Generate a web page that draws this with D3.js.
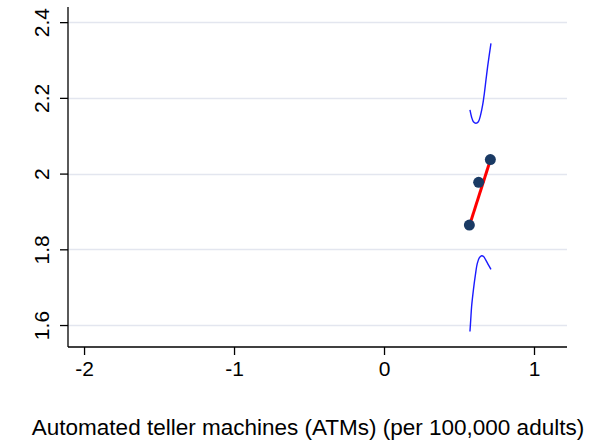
<!DOCTYPE html>
<html>
<head>
<meta charset="utf-8">
<script src="https://cdn.jsdelivr.net/npm/d3@7"></script>
<style>
body { margin: 0; background: #fff; }
svg text { font-family: "Liberation Sans", Arial, sans-serif; fill: #000; }
</style>
</head>
<body>
<div id="chart"></div>
<script>
// observed points (x = ATMs, y = outcome)
var pointX = [0.569, 0.631, 0.709];
var pointY = [1.864, 1.977, 2.037];
// fitted line ends
var fitX = [0.569, 0.709];
var fitY = [1.862, 2.036];
// upper band
var upperX = [0.573, 0.584, 0.596, 0.613, 0.629, 0.644, 0.658, 0.669, 0.680, 0.691, 0.702, 0.713];
var upperY = [2.168, 2.149, 2.137, 2.133, 2.137, 2.155, 2.182, 2.212, 2.248, 2.283, 2.314, 2.344];
// lower band
var lowerX = [0.573, 0.578, 0.584, 0.596, 0.609, 0.622, 0.636, 0.651, 0.664, 0.678, 0.696, 0.713];
var lowerY = [1.583, 1.613, 1.649, 1.693, 1.732, 1.763, 1.778, 1.783, 1.781, 1.772, 1.759, 1.747];
var xTicks = [-2, -1, 0, 1];
var yTicks = [1.6, 1.8, 2, 2.2, 2.4];
var xTitle = "Automated teller machines (ATMs) (per 100,000 adults)";

function drawChart() {
	var W = 611, H = 442;
	var pLeft = 68, pRight = 567, pTop = 7, pBottom = 347;

	var svg = d3.select("#chart").append("svg")
		.attr("width", W)
		.attr("height", H);

	var x = d3.scaleLinear().domain([-2.107, 1.22]).range([pLeft, pRight]);
	var y = d3.scaleLinear().domain([1.542, 2.44]).range([pBottom, pTop]);

	// grid lines
	svg.selectAll("line.grid")
		.data(yTicks)
		.enter()
		.append("line")
		.attr("class", "grid")
		.attr("x1", pLeft)
		.attr("x2", pRight)
		.attr("y1", function (d) { return Math.round(y(d)) + 0.5; })
		.attr("y2", function (d) { return Math.round(y(d)) + 0.5; })
		.attr("stroke", "#e3e6ef")
		.attr("stroke-width", 1.5);

	// axes
	var xAxis = d3.axisBottom(x).tickValues(xTicks).tickSize(8).tickPadding(6)
		.tickFormat(function (d) { return String(d); });
	var yAxis = d3.axisLeft(y).tickValues(yTicks).tickSize(8)
		.tickFormat(function (d) { return d === 2 ? "2" : d3.format(".1f")(d); });

	var gx = svg.append("g").attr("transform", "translate(0," + pBottom + ")").call(xAxis);
	gx.select(".domain").attr("d", "M" + pLeft + ",0H" + pRight).attr("stroke", "#000").attr("stroke-width", 1.3);
	gx.selectAll(".tick line").attr("stroke", "#000").attr("stroke-width", 1.3);
	gx.selectAll(".tick text").attr("font-size", 21).attr("font-family", "Liberation Sans, Arial, sans-serif");

	var gy = svg.append("g").attr("transform", "translate(" + pLeft + ",0)").call(yAxis);
	gy.select(".domain").attr("d", "M0," + pTop + "V" + pBottom).attr("stroke", "#000").attr("stroke-width", 1.3);
	gy.selectAll(".tick line").attr("stroke", "#000").attr("stroke-width", 1.3);
	gy.selectAll(".tick text")
		.attr("font-size", 21)
		.attr("font-family", "Liberation Sans, Arial, sans-serif")
		.attr("text-anchor", "middle")
		.attr("x", 0)
		.attr("y", 0)
		.attr("dy", "0.35em")
		.attr("transform", "translate(-26,0) rotate(-90)");

	// axis title
	svg.append("text")
		.attr("x", 308)
		.attr("y", 435)
		.attr("text-anchor", "middle")
		.attr("font-size", 22.5)
		.text(xTitle);

	// confidence bands
	var band = d3.line()
		.x(function (d) { return x(d[0]); })
		.y(function (d) { return y(d[1]); })
		.curve(d3.curveCatmullRom);

	svg.append("path")
		.datum(d3.zip(upperX, upperY))
		.attr("d", band)
		.attr("fill", "none")
		.attr("stroke", "#1a1aff")
		.attr("stroke-width", 1.4);

	svg.append("path")
		.datum(d3.zip(lowerX, lowerY))
		.attr("d", band)
		.attr("fill", "none")
		.attr("stroke", "#1a1aff")
		.attr("stroke-width", 1.4);

	// fitted line
	svg.append("path")
		.datum(d3.zip(fitX, fitY))
		.attr("d", d3.line().x(function (d) { return x(d[0]); }).y(function (d) { return y(d[1]); }))
		.attr("fill", "none")
		.attr("stroke", "#ff0000")
		.attr("stroke-width", 3);

	// points
	svg.selectAll("circle.pt")
		.data(d3.zip(pointX, pointY))
		.enter()
		.append("circle")
		.attr("class", "pt")
		.attr("cx", function (d) { return x(d[0]); })
		.attr("cy", function (d) { return y(d[1]); })
		.attr("r", 5.5)
		.attr("fill", "#1a3a64");
}

drawChart();
</script>
</body>
</html>
